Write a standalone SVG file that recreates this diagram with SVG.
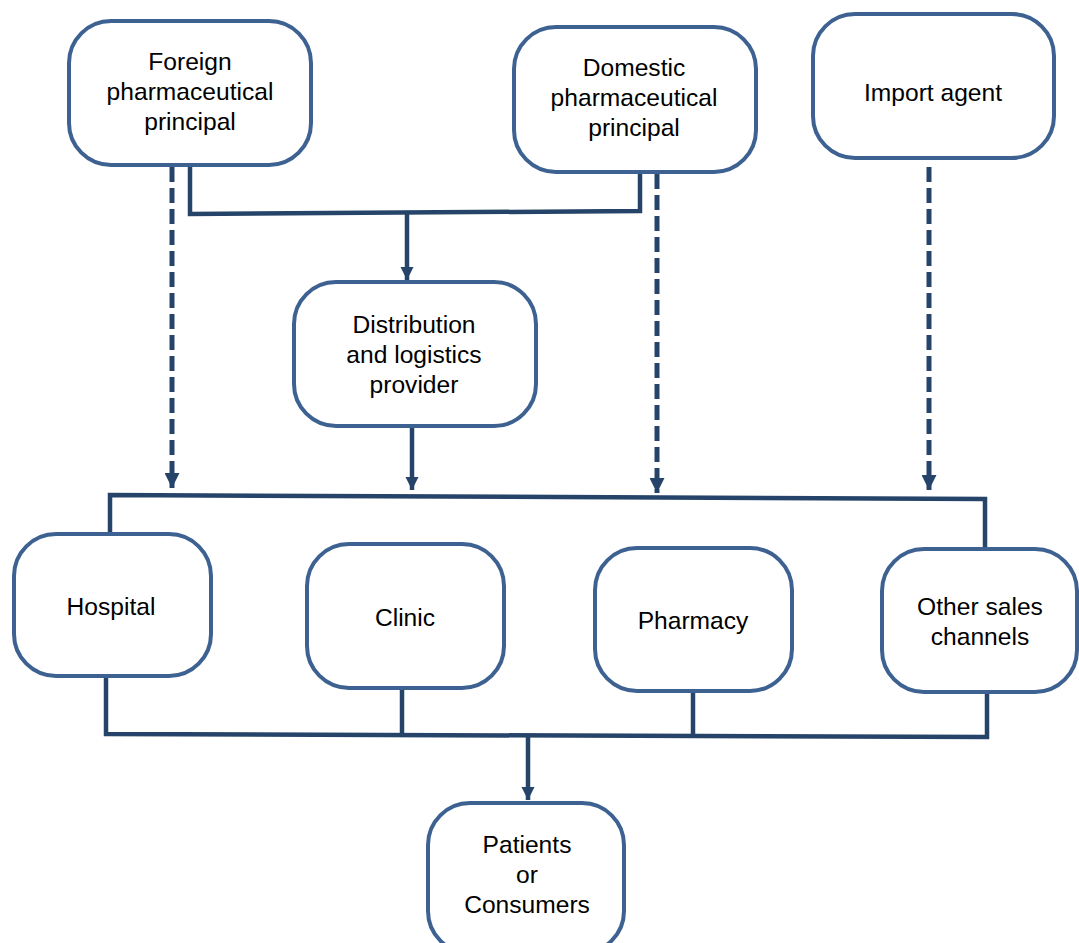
<svg xmlns="http://www.w3.org/2000/svg" width="1079" height="943" viewBox="0 0 1079 943">
<style>
.box{fill:#fff;stroke:#3d6191;stroke-width:4}
.t{font-family:"Liberation Sans",Arial,sans-serif;font-size:24.6px;fill:#000;text-anchor:middle}
.c{fill:none;stroke:#264469;stroke-width:4.5}
.d{fill:none;stroke:#264469;stroke-width:5;stroke-dasharray:15 6}
</style>
<defs>
<marker id="ah" viewBox="0 0 10 10" refX="10" refY="5" markerWidth="3" markerHeight="3" markerUnits="strokeWidth" orient="auto">
<path d="M0,0 L10,5 L0,10 z" fill="#264469"/>
</marker>
</defs>
<rect width="1079" height="943" fill="#fff"/>
<g id="connectors">
<polyline class="c" points="190,166 190,214 640,211 640,172"/>
<line class="c" x1="407" y1="212" x2="407" y2="280" marker-end="url(#ah)"/>
<line class="d" x1="172" y1="167" x2="172" y2="488" marker-end="url(#ah)"/>
<line class="c" x1="412" y1="428" x2="412" y2="490" marker-end="url(#ah)"/>
<line class="d" x1="657" y1="174" x2="657" y2="493" marker-end="url(#ah)"/>
<line class="d" x1="929" y1="167" x2="929" y2="490" marker-end="url(#ah)"/>
<polyline class="c" points="110,533 110,495 985,499 985,548"/>
<polyline class="c" points="106,678 106,734 987,737 987,694"/>
<line class="c" x1="402" y1="689" x2="402" y2="734"/>
<line class="c" x1="693" y1="692" x2="693" y2="737"/>
<line class="c" x1="528" y1="735" x2="528" y2="800" marker-end="url(#ah)"/>
</g>
<g id="foreign">
<rect class="box" x="69" y="21" width="242" height="144" rx="42"/>
<text class="t" x="190" y="70">Foreign</text>
<text class="t" x="190" y="100">pharmaceutical</text>
<text class="t" x="190" y="130">principal</text>
</g>
<g id="domestic">
<rect class="box" x="514" y="27" width="242" height="145" rx="42"/>
<text class="t" x="634" y="76">Domestic</text>
<text class="t" x="634" y="106">pharmaceutical</text>
<text class="t" x="634" y="136">principal</text>
</g>
<g id="import">
<rect class="box" x="813" y="14" width="241" height="144" rx="42"/>
<text class="t" x="933" y="101">Import agent</text>
</g>
<g id="distribution">
<rect class="box" x="294" y="282" width="242" height="144" rx="42"/>
<text class="t" x="414" y="333">Distribution</text>
<text class="t" x="414" y="363">and logistics</text>
<text class="t" x="414" y="393">provider</text>
</g>
<g id="hospital">
<rect class="box" x="14" y="534" width="197" height="142" rx="42"/>
<text class="t" x="111" y="615">Hospital</text>
</g>
<g id="clinic">
<rect class="box" x="307" y="544" width="197" height="144" rx="42"/>
<text class="t" x="405" y="626">Clinic</text>
</g>
<g id="pharmacy">
<rect class="box" x="595" y="548" width="197" height="143" rx="42"/>
<text class="t" x="693" y="629">Pharmacy</text>
</g>
<g id="other">
<rect class="box" x="882" y="549" width="195" height="143" rx="42"/>
<text class="t" x="980" y="615">Other sales</text>
<text class="t" x="980" y="645">channels</text>
</g>
<g id="patients">
<rect class="box" x="428" y="803" width="196" height="150" rx="42"/>
<text class="t" x="527" y="853">Patients</text>
<text class="t" x="527" y="883">or</text>
<text class="t" x="527" y="913">Consumers</text>
</g>
</svg>
